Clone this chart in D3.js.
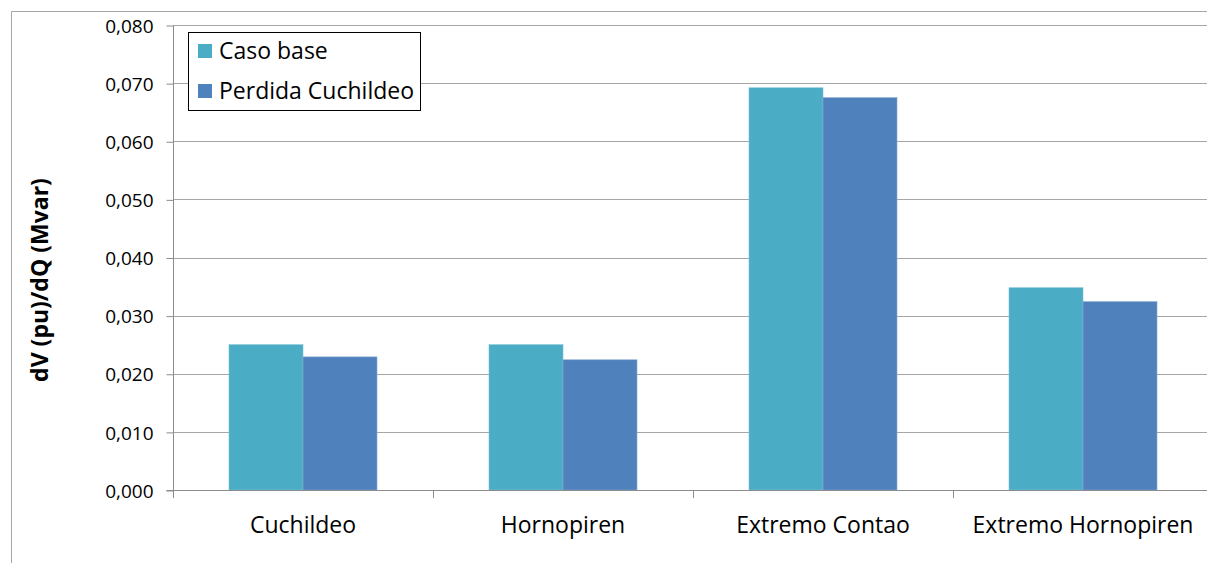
<!DOCTYPE html>
<html>
<head>
<meta charset="utf-8">
<script src="https://cdn.jsdelivr.net/npm/d3@7"></script>
<style>
  html, body { margin: 0; padding: 0; background: #fff; }
  svg { display: block; font-family: "Open Sans", sans-serif; }
</style>
</head>
<body>
<svg id="chart" width="1207" height="563"></svg>
<script>
// Sensitivity dV/dQ per bus, two operating scenarios
const categories = ["Cuchildeo", "Hornopiren", "Extremo Contao", "Extremo Hornopiren"];
const seriesNames = ["Caso base", "Perdida Cuchildeo"];
const casoBase = [0.0250, 0.0250, 0.0692, 0.0348];
const perdidaCuchildeo = [0.0229, 0.0224, 0.0675, 0.0324];
const yTicks = [0, 0.01, 0.02, 0.03, 0.04, 0.05, 0.06, 0.07, 0.08];
const colors = ["#4BACC6", "#4F81BD"];

const svg = d3.select("#chart");
const W = 1207, H = 563;
const plot = { left: 173, right: 1213, top: 25, bottom: 490 };
const FONT = "'Open Sans', sans-serif";

// Outer chart frame (only left and top edges fall inside the canvas)
svg.append("path")
  .attr("d", `M11.5,${H} V11.5 H${W}`)
  .attr("fill", "none").attr("stroke", "#a6a6a6").attr("stroke-width", 1);

const x = d3.scaleBand().domain(categories).range([plot.left, plot.right]).paddingInner(0).paddingOuter(0);
const inner = d3.scaleBand().domain(seriesNames).range([0, x.bandwidth()]).paddingInner(0).paddingOuter(0.757);
const y = d3.scaleLinear().domain([0, 0.08]).range([plot.bottom, plot.top]);

// Horizontal gridlines
svg.append("g").selectAll("line").data(yTicks.filter(d => d > 0)).join("line")
  .attr("x1", plot.left).attr("x2", plot.right)
  .attr("y1", d => Math.round(y(d)) + 0.5).attr("y2", d => Math.round(y(d)) + 0.5)
  .attr("stroke", "#a6a6a6").attr("stroke-width", 1);

// Bars
const data = categories.map((c, i) => ({ c, vals: [casoBase[i], perdidaCuchildeo[i]] }));
const groups = svg.append("g").selectAll("g").data(data).join("g")
  .attr("transform", d => `translate(${x(d.c)},0)`);
groups.selectAll("rect").data(d => d.vals.map((v, j) => ({ v, s: seriesNames[j], j }))).join("rect")
  .attr("x", d => inner(d.s))
  .attr("width", inner.bandwidth())
  .attr("y", d => y(d.v))
  .attr("height", d => y(0) - y(d.v))
  .attr("fill", d => colors[d.j])
  .attr("stroke", d => d.j === 0 ? "#7cc3d6" : "#86a7d2")
  .attr("stroke-width", 0.6);

// Y axis
const yAxis = d3.axisLeft(y).tickValues(yTicks).tickSize(7).tickPadding(13)
  .tickFormat(d => d3.format(".3f")(d).replace(".", ","));
const gy = svg.append("g").attr("transform", `translate(${plot.left + 0.5},0.5)`).call(yAxis);
gy.select(".domain").attr("stroke", "#8c8c8c").attr("d", `M-7,${plot.bottom} H0 V${plot.top}`);
gy.selectAll(".tick line").attr("stroke", "#8c8c8c");
gy.selectAll(".tick text").attr("fill", "#000").style("font-size", "19px")
  .style("font-family", FONT).attr("dy", "0.35em");

// X axis
const xTickPos = d3.range(categories.length + 1).map(i => plot.left + i * x.bandwidth());
svg.append("line").attr("x1", plot.left).attr("x2", plot.right)
  .attr("y1", plot.bottom + 0.5).attr("y2", plot.bottom + 0.5)
  .attr("stroke", "#8c8c8c");
svg.append("g").selectAll("line").data(xTickPos).join("line")
  .attr("x1", d => d + 0.5).attr("x2", d => d + 0.5)
  .attr("y1", plot.bottom).attr("y2", plot.bottom + 8)
  .attr("stroke", "#8c8c8c");
svg.append("g").selectAll("text").data(categories).join("text")
  .attr("x", d => x(d) + x.bandwidth() / 2)
  .attr("y", 533)
  .attr("text-anchor", "middle")
  .style("font-size", "23px")
  .attr("fill", "#000")
  .text(d => d);

// Y axis title
svg.append("text")
  .attr("transform", "translate(48,280) rotate(-90)")
  .attr("text-anchor", "middle")
  .style("font-size", "23px").style("font-weight", "bold")
  .attr("fill", "#000")
  .text("dV (pu)/dQ (Mvar)");

// Legend
const lg = svg.append("g");
lg.append("rect").attr("x", 188.5).attr("y", 32.5).attr("width", 232).attr("height", 78)
  .attr("fill", "#fff").attr("stroke", "#000").attr("stroke-width", 1);
seriesNames.forEach((s, i) => {
  const cy = 51 + i * 40;
  lg.append("rect").attr("x", 198).attr("y", cy - 7).attr("width", 14).attr("height", 14)
    .attr("fill", colors[i]);
  lg.append("text").attr("x", 219).attr("y", cy).attr("dy", "0.36em")
    .style("font-size", "23px").attr("fill", "#000").text(s);
});
</script>
</body>
</html>
